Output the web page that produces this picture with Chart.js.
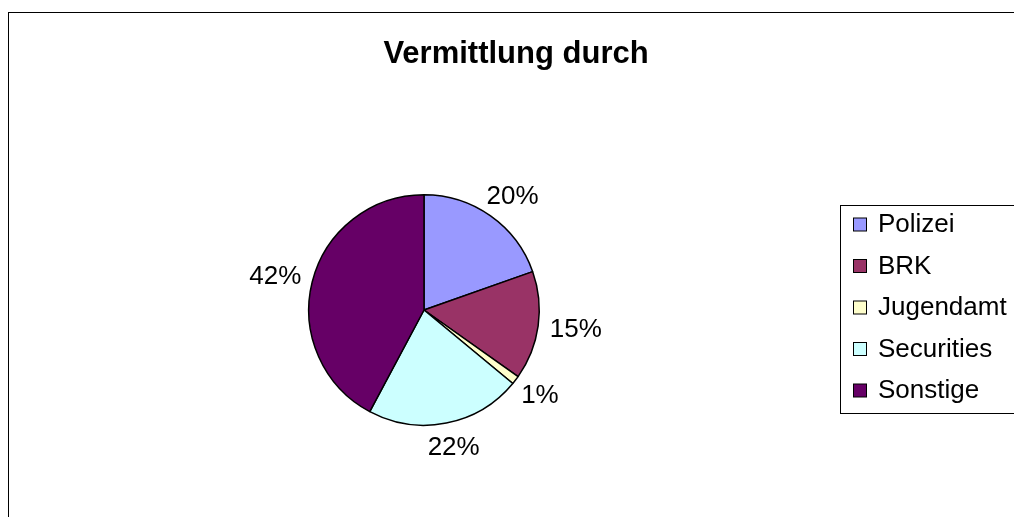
<!DOCTYPE html>
<html>
<head>
<meta charset="utf-8">
<script src="https://cdn.jsdelivr.net/npm/chart.js@4"></script>
<style>
  html, body { margin: 0; padding: 0; background: #fff; }
  #wrap { width: 1014px; height: 517px; position: relative; }
</style>
</head>
<body>
<div id="wrap"><canvas id="myChart" width="1014" height="517"></canvas></div>
<script>
// data
const categories = ["Polizei", "BRK", "Jugendamt", "Securities", "Sonstige"];
const shares = [19.6, 15.2, 1.2, 21.8, 42.2];
const sliceColors = ["#9999FF", "#993366", "#FFFFCC", "#CCFFFF", "#660066"];
const chartTitle = "Vermittlung durch";

const FONT = "'Liberation Sans', Arial, sans-serif";

// outer frame + title
const framePlugin = {
  id: "frame",
  beforeDraw(chart) {
    const ctx = chart.ctx;
    ctx.save();
    ctx.fillStyle = "#fff";
    ctx.fillRect(0, 0, chart.width, chart.height);
    ctx.strokeStyle = "#000";
    ctx.lineWidth = 1;
    ctx.strokeRect(8.5, 12.5, chart.width + 20, chart.height + 20);
    ctx.fillStyle = "#000";
    ctx.font = "bold 31px " + FONT;
    ctx.textAlign = "center";
    ctx.textBaseline = "middle";
    ctx.fillText(chartTitle, 516, 54);
    ctx.restore();
  }
};

// percent labels outside each slice
const labelPlugin = {
  id: "outsideLabels",
  afterDatasetsDraw(chart) {
    const ctx = chart.ctx;
    const meta = chart.getDatasetMeta(0);
    const total = shares.reduce((a, b) => a + b, 0);
    ctx.save();
    ctx.fillStyle = "#000";
    ctx.font = "26px " + FONT;
    ctx.textAlign = "center";
    ctx.textBaseline = "middle";
    meta.data.forEach((arc, i) => {
      const p = arc.getProps(["x", "y", "startAngle", "endAngle", "outerRadius"], true);
      const mid = (p.startAngle + p.endAngle) / 2;
      const pct = Math.round(shares[i] / total * 100) + "%";
      const hw = ctx.measureText(pct).width / 2, hh = 12;
      const r = p.outerRadius + 12;
      const cx = p.x + Math.cos(mid) * (r + hw);
      const cy = p.y + Math.sin(mid) * (r + hh);
      ctx.fillText(pct, cx, cy + 1);
    });
    ctx.restore();
  }
};

// boxed legend on the right
const legendPlugin = {
  id: "boxLegend",
  afterDraw(chart) {
    const ctx = chart.ctx;
    const rowH = 41.5;
    ctx.save();
    ctx.strokeStyle = "#000";
    ctx.lineWidth = 1;
    ctx.strokeRect(840.5, 205.5, 200, 208);
    ctx.font = "26px " + FONT;
    ctx.textBaseline = "middle";
    ctx.textAlign = "left";
    categories.forEach((name, i) => {
      const cy = 224 + i * rowH;
      ctx.fillStyle = sliceColors[i];
      ctx.fillRect(853.5, cy - 6, 13, 13);
      ctx.strokeRect(853.5, cy - 6, 13, 13);
      ctx.fillStyle = "#000";
      ctx.fillText(name, 878, cy + 1);
    });
    ctx.restore();
  }
};

const ctx = document.getElementById("myChart").getContext("2d");
new Chart(ctx, {
  type: "pie",
  data: {
    labels: categories,
    datasets: [{
      data: shares,
      backgroundColor: sliceColors,
      borderColor: "#000",
      borderWidth: 1.5
    }]
  },
  options: {
    responsive: false,
    animation: false,
    layout: { padding: { left: 308, right: 474, top: 194, bottom: 91 } },
    plugins: {
      legend: { display: false },
      title: { display: false },
      tooltip: { enabled: false }
    }
  },
  plugins: [framePlugin, labelPlugin, legendPlugin]
});
</script>
</body>
</html>
